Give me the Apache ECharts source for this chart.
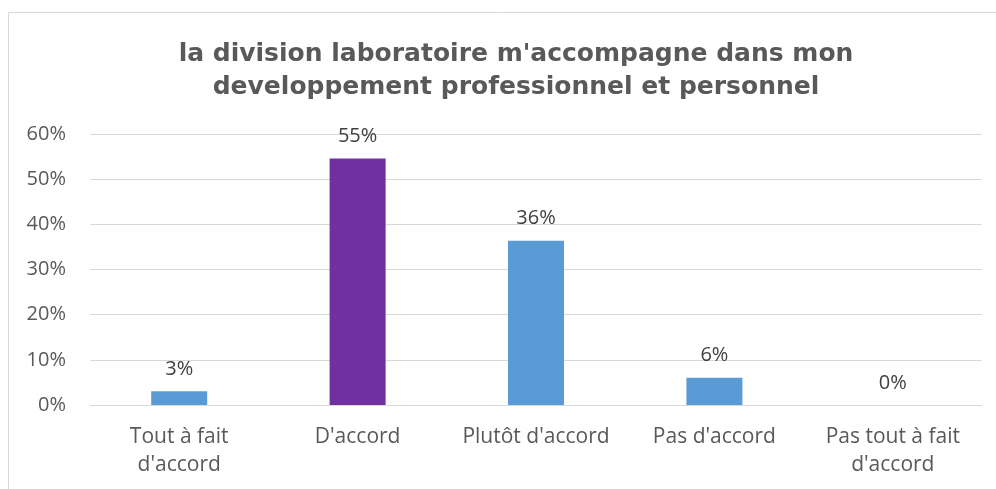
<!DOCTYPE html>
<html lang="fr">
<head>
  <meta charset="UTF-8">
  <title>division laboratoire</title>
  <script src="https://cdn.jsdelivr.net/npm/echarts@6/dist/echarts.min.js"></script>
  <style>
    html, body { margin: 0; padding: 0; background: #fff; }
    #chart { width: 996px; height: 489px; }
  </style>
</head>
<body>
  <div id="chart"></div>
  <script>
    // données
    var categories = ["Tout à fait\nd'accord", "D'accord", "Plutôt d'accord", "Pas d'accord", "Pas tout à fait\nd'accord"];
    var values = [3.03, 54.55, 36.36, 6.06, 0];
    var barColors = ['#5b9bd5', '#7030a0', '#5b9bd5', '#5b9bd5', '#5b9bd5'];
    var yTicks = [0, 10, 20, 30, 40, 50, 60];

    var bodyFont = 'Open Sans';

    var myChart = echarts.init(document.getElementById('chart'));

    var option = {
      backgroundColor: '#fff',
      animation: false,
      title: {
        text: "la division laboratoire m'accompagne dans mon\ndeveloppement professionnel et personnel",
        left: 511,
        top: 33,
        textAlign: 'center',
        textStyle: {
          fontFamily: 'DejaVu Sans',
          fontSize: 25,
          fontWeight: 'bold',
          color: '#595959',
          lineHeight: 33
        }
      },
      graphic: [{
        type: 'rect',
        shape: { x: 8.5, y: 12.5, width: 1100, height: 600 },
        style: { fill: 'none', stroke: '#d9d9d9', lineWidth: 1 },
        silent: true
      }],
      grid: { left: 90, right: 14, top: 134, bottom: 84 },
      xAxis: {
        type: 'category',
        data: categories,
        axisLine: { lineStyle: { color: '#d9d9d9' } },
        axisTick: { show: false },
        axisLabel: {
          interval: 0,
          margin: 18,
          fontFamily: bodyFont,
          fontSize: 21,
          color: '#595959',
          lineHeight: 28
        }
      },
      yAxis: {
        type: 'value',
        min: yTicks[0],
        max: yTicks[yTicks.length - 1],
        interval: 10,
        axisLine: { show: false },
        axisTick: { show: false },
        splitLine: { lineStyle: { color: '#d9d9d9', width: 1 } },
        axisLabel: {
          margin: 24,
          fontFamily: bodyFont,
          fontSize: 20,
          color: '#595959',
          formatter: '{value}%'
        }
      },
      series: [{
        type: 'bar',
        barWidth: 56,
        data: values.map(function (v, i) {
          return { value: v, itemStyle: { color: barColors[i] } };
        }),
        label: {
          show: true,
          position: 'top',
          distance: 12,
          fontFamily: bodyFont,
          fontSize: 20,
          color: '#404040',
          formatter: function (p) { return Math.round(p.value) + '%'; }
        }
      }]
    };

    myChart.setOption(option);
  </script>
</body>
</html>
